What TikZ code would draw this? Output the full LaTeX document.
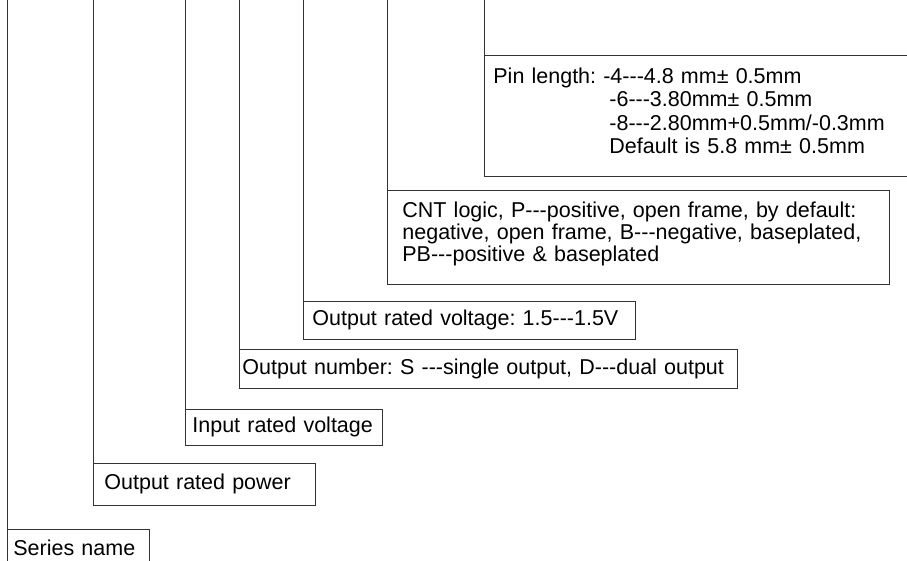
\documentclass[tikz,border=0pt]{standalone}
\usepackage{fontspec}
\setmainfont{Liberation Sans}[Ligatures=TeXOff]
\newcommand{\lbl}{\fontsize{21.5}{23.3}\selectfont\frenchspacing}
\tikzset{
  tag/.style={draw=black!80, anchor=north west, align=left, inner ysep=0pt, font=\lbl},
}

\begin{document}
\begin{tikzpicture}[x=1pt,y=-1pt,line width=0.8pt]
\useasboundingbox (0,0) rectangle (907,560);
% the boxes, bottom to top
\node[tag, inner xsep=6pt, text width=130pt, minimum height=36pt] (series) at (7,529) {Series name};
\node[tag, inner xsep=11pt, text width=200pt, minimum height=42pt] (power) at (93,463) {Output rated power};
\node[tag, inner xsep=7pt, text width=183pt, minimum height=36pt] (input) at (185,409) {Input rated voltage};
\node[tag, inner xsep=3pt, text width=492pt, minimum height=39pt] (number) at (239,349) {Output number: S ---single output, D---dual output};
\node[tag, inner xsep=9pt, text width=314pt, minimum height=38pt] (outv) at (303,301) {Output rated voltage: 1.5---1.5V};
\node[tag, inner xsep=15pt, text width=472pt, text height=27pt, text depth=67pt,
  font=\fontsize{21.5}{21.8}\selectfont\frenchspacing] (logic) at (387,190)
  {CNT logic, P---positive, open frame, by default:\\negative, open frame, B---negative, baseplated,\\PB---positive \& baseplated};
\node[tag, inner xsep=9pt, text width=412pt, text height=28pt, text depth=93pt] (pin) at (484,55)
  {Pin length: -4---4.8 mm\textpm\ 0.5mm\\
   \hspace*{116pt}-6---3.80mm\textpm\ 0.5mm\\
   \hspace*{116pt}-8---2.80mm+0.5mm/-0.3mm\\
   \hspace*{116pt}Default is 5.8 mm\textpm\ 0.5mm};
% lines coming down from the code
\coordinate (s0) at (7,-2);
\coordinate (p0) at (93,-2);
\coordinate (i0) at (185,-2);
\coordinate (n0) at (239,-2);
\coordinate (v0) at (303,-2);
\coordinate (l0) at (387,-2);
\coordinate (q0) at (484,-2);
\draw[black!80] (s0) -- (series.north west) (p0) -- (power.north west) (i0) -- (input.north west)
  (n0) -- (number.north west) (v0) -- (outv.north west) (l0) -- (logic.north west) (q0) -- (pin.north west);
\end{tikzpicture}
\end{document}
